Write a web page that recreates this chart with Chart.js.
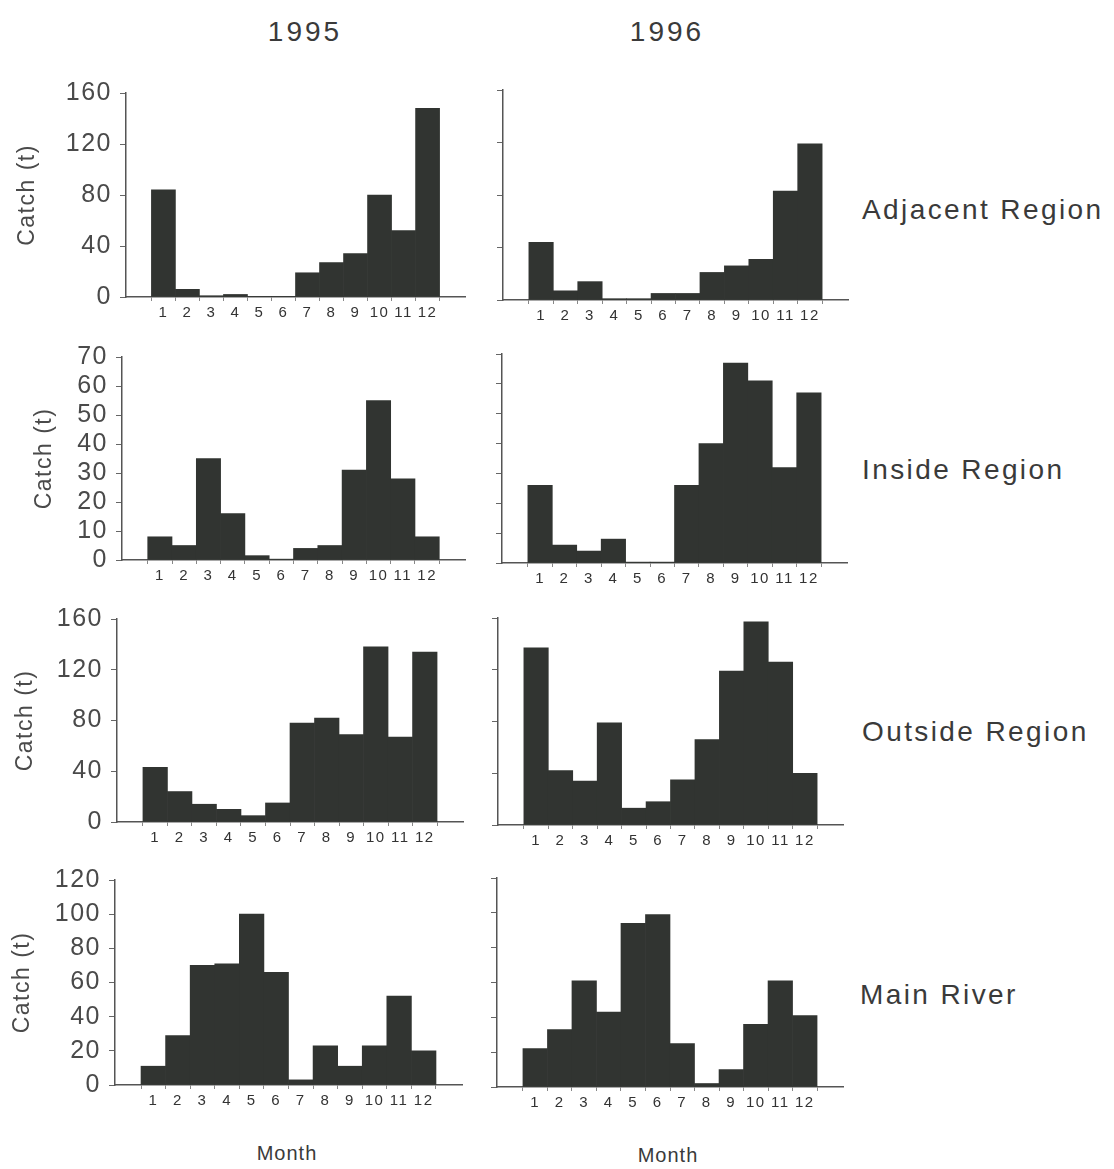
<!DOCTYPE html>
<html><head><meta charset="utf-8">
<script src="https://cdn.jsdelivr.net/npm/chart.js@4.4.1/dist/chart.umd.min.js"></script>
<style>
body{margin:0;background:#fff;width:1114px;height:1169px;position:relative;overflow:hidden;font-family:"Liberation Sans",Arial,sans-serif;color:#3a3a3a}
canvas{position:absolute}
.lbl{position:absolute;white-space:nowrap;line-height:1;transform:translate(-50%,-50%)}
.reg{position:absolute;white-space:nowrap;line-height:1;transform:translateY(-50%);font-size:28px;letter-spacing:2.4px;color:#3a3a3a}
</style></head><body>
<script>
// ---- data ----
const months = [1,2,3,4,5,6,7,8,9,10,11,12];
const years = ['1995','1996'];
const regions = ['Adjacent Region','Inside Region','Outside Region','Main River'];
const yTitle = 'Catch (t)';
const xTitle = 'Month';

const adjacent1995 = [84, 6, 1, 2, 0.5, 0.5, 19, 27, 34, 80, 52, 148];
const adjacent1996 = [44, 7, 14, 1, 1, 5, 5, 21, 26, 31, 83, 119];
const inside1995   = [8, 5, 35, 16, 1.5, 0.3, 4, 5, 31, 55, 28, 8];
const inside1996   = [26, 6, 4, 8, 0.3, 0.3, 26, 40, 67, 61, 32, 57];
const outside1995  = [43, 24, 14, 10, 5, 15, 78, 82, 69, 138, 67, 134];
const outside1996  = [137, 42, 34, 79, 13, 18, 35, 66, 119, 157, 126, 40];
const river1995    = [11, 29, 70, 71, 100, 66, 3, 23, 11, 23, 52, 20];
const river1996    = [22, 33, 61, 43, 94, 99, 25, 2, 10, 36, 61, 41];

const adjacentTicks = [0, 40, 80, 120, 160];
const insideTicks   = [0, 10, 20, 30, 40, 50, 60, 70];
const outsideTicks  = [0, 40, 80, 120, 160];
const riverTicks    = [0, 20, 40, 60, 80, 100, 120];

// ---- layout (pixel geometry of each panel) ----
const panels = [
  {vals: adjacent1995, ticks: adjacentTicks, left:126, right:465, top:88,  zero:297, labels:true, tPad:14},
  {vals: adjacent1996, ticks: adjacentTicks, left:503, right:848, top:90,  zero:300, labels:false},
  {vals: inside1995,   ticks: insideTicks,   left:122, right:465, top:352, zero:560, labels:true, tPad:31},
  {vals: inside1996,   ticks: insideTicks,   left:502, right:847, top:354, zero:563, labels:false},
  {vals: outside1995,  ticks: outsideTicks,  left:117, right:463, top:614, zero:822, labels:true, tPad:12},
  {vals: outside1996,  ticks: outsideTicks,  left:498, right:843, top:618, zero:825, labels:false},
  {vals: river1995,    ticks: riverTicks,    left:115, right:462, top:875, zero:1085, labels:true, tPad:9},
  {vals: river1996,    ticks: riverTicks,    left:497, right:843, top:878, zero:1087, labels:false}
];

const spacing = {
  id:'spacing',
  beforeUpdate(c){ c.ctx.letterSpacing = '1.5px'; },
  beforeDraw(c){ c.ctx.letterSpacing = '1.5px'; }
};

function makePanel(p){
  const padTop = 18, padRight = 12, xH = 40;
  const yW = p.labels ? p.left : 22;
  const w = yW + (p.right - p.left) + padRight;
  const h = padTop + (p.zero - p.top) + xH;
  const c = document.createElement('canvas');
  c.width = w; c.height = h;
  c.style.left = (p.left - yW) + 'px';
  c.style.top = (p.top - padTop) + 'px';
  c.style.width = w + 'px'; c.style.height = h + 'px';
  document.body.appendChild(c);
  new Chart(c, {
    type: 'bar',
    data: { datasets: [{
      data: months.map((m, i) => ({x: m, y: p.vals[i]})),
      backgroundColor: '#313431', borderWidth: 0,
      categoryPercentage: 1, barPercentage: 1
    }]},
    options: {
      responsive: false, animation: false, devicePixelRatio: 1,
      layout: {padding: {top: padTop, right: padRight, left: 0, bottom: 0}},
      plugins: {legend: {display: false}, tooltip: {enabled: false}},
      scales: {
        x: {
          type: 'linear', min: 0.03, max: 12.97,
          afterBuildTicks: s => { s.ticks = months.map(v => ({value: v})); },
          afterFit: s => { s.height = xH; },
          grid: {drawOnChartArea: false, tickLength: 4, color: '#888'},
          border: {color: '#555', width: 1.5},
          ticks: {font: {size: 15, family: 'Liberation Sans'}, color: '#333', padding: 3, maxRotation: 0, autoSkip: false}
        },
        y: {
          min: 0, max: p.ticks[p.ticks.length - 1],
          afterBuildTicks: s => { s.ticks = p.ticks.map(v => ({value: v})); },
          afterFit: s => { s.width = yW; },
          grid: {drawOnChartArea: false, tickLength: 6, color: '#666'},
          border: {color: '#555', width: 1.5},
          ticks: {display: p.labels, autoSkip: false, font: {size: 25, family: 'Liberation Sans'}, color: '#4a4a4a', padding: 8},
          title: {display: p.labels, text: yTitle, font: {size: 23, family: 'Liberation Sans'}, color: '#4a4a4a',
                  padding: {top: p.tPad || 0, bottom: 0}}
        }
      }
    },
    plugins: [spacing]
  });
}
panels.forEach(makePanel);

function addText(txt, cls, x, y, size){
  const d = document.createElement('div');
  d.className = cls; d.textContent = txt;
  d.style.left = x + 'px'; d.style.top = y + 'px';
  if (size) d.style.fontSize = size + 'px';
  document.body.appendChild(d);
  return d;
}
addText(years[0], 'lbl', 305, 32, 28).style.letterSpacing = '3px';
addText(years[1], 'lbl', 667, 32, 28).style.letterSpacing = '3px';
[210, 470, 732, 995].forEach((y, i) => addText(regions[i], 'reg', i === 3 ? 860 : 862, y));
addText(xTitle, 'lbl', 287, 1153, 20).style.letterSpacing = '1px';
addText(xTitle, 'lbl', 668, 1155, 20).style.letterSpacing = '1px';
</script>
</body></html>
